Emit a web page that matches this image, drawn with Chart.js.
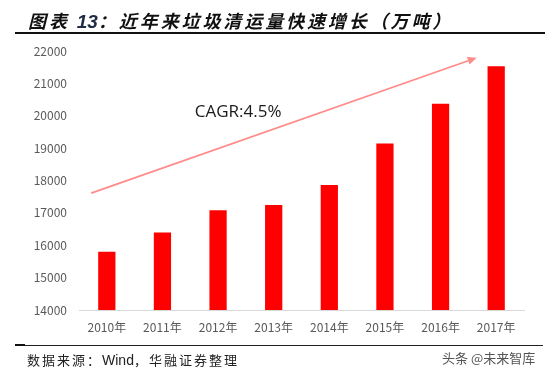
<!DOCTYPE html>
<html>
<head>
<meta charset="utf-8">
<script src="https://cdn.jsdelivr.net/npm/chart.js@4/dist/chart.umd.min.js"></script>
<style>
  html, body { margin: 0; padding: 0; background: #fff; }
  body { width: 554px; height: 378px; position: relative; overflow: hidden; font-family: "Noto Sans CJK SC", sans-serif; }
  #wrap { position: absolute; left: 0; top: 0; width: 554px; height: 378px; }
  .title { position: absolute; left: 28px; top: 9px; line-height: 22px; font-size: 18px; font-weight: bold; font-style: italic; letter-spacing: 2.9px; color: #111; white-space: nowrap; }
  .title .num { font-family: "Liberation Sans", Arial, sans-serif; font-size: 19px; letter-spacing: 0; color: #1f2a44; }
  .rule-top { position: absolute; left: 15px; width: 530px; top: 32px; height: 2px; background: #111; }
  .rule-bottom { position: absolute; left: 15px; width: 528px; top: 345px; height: 1px; background: #222; }
  .rule-bottom::before { content: ""; position: absolute; left: 0; top: -1px; width: 10px; height: 2px; background: #111; }
  .source { position: absolute; left: 27px; top: 351px; line-height: 18px; font-size: 13px; letter-spacing: 2px; color: #222; white-space: nowrap; }
  .source .en { font-family: "Liberation Sans", Arial, sans-serif; letter-spacing: 0; font-size: 14px; }
  .mark { position: absolute; left: 442px; top: 349px; line-height: 18px; font-size: 13px; color: #555; white-space: nowrap; }
</style>
</head>
<body>
<div id="wrap"><canvas id="chart" width="554" height="378"></canvas></div>
<div class="title">图表 <span class="num">13</span>：近年来垃圾清运量快速增长（万吨）</div>
<div class="rule-top"></div>
<div class="rule-bottom"></div>
<div class="source">数据来源：<span class="en">Wind</span>，华融证券整理</div>
<div class="mark">头条 @未来智库</div>
<script>
// values (万吨)
const years = ['2010年', '2011年', '2012年', '2013年', '2014年', '2015年', '2016年', '2017年'];
const tonnage = [15800, 16390, 17080, 17240, 17860, 19140, 20370, 21530];

// trend arrow and its label, in data units [category index, value]
const trendFrom = [-0.28, 17610];
const trendTo = [6.65, 21790];
const cagrText = 'CAGR:4.5%';
const cagrAt = [1.58, 20100];

const AXIS_TEXT = '#595959';

// ── Trend arrow + CAGR label ──
const trendArrow = {
  id: 'trendArrow',
  afterDatasetsDraw(chart) {
    const { ctx, scales: { x, y } } = chart;
    const x1 = x.getPixelForValue(trendFrom[0]), y1 = y.getPixelForValue(trendFrom[1]);
    const x2 = x.getPixelForValue(trendTo[0]), y2 = y.getPixelForValue(trendTo[1]);
    const ang = Math.atan2(y2 - y1, x2 - x1);
    const head = 9, half = 4;
    ctx.save();
    ctx.strokeStyle = '#ff8a8a';
    ctx.fillStyle = '#ff8a8a';
    ctx.lineWidth = 1.6;
    ctx.beginPath();
    ctx.moveTo(x1, y1);
    ctx.lineTo(x2 - head * Math.cos(ang), y2 - head * Math.sin(ang));
    ctx.stroke();
    ctx.beginPath();
    ctx.moveTo(x2, y2);
    ctx.lineTo(x2 - head * Math.cos(ang) + half * Math.sin(ang), y2 - head * Math.sin(ang) - half * Math.cos(ang));
    ctx.lineTo(x2 - head * Math.cos(ang) - half * Math.sin(ang), y2 - head * Math.sin(ang) + half * Math.cos(ang));
    ctx.closePath();
    ctx.fill();

    ctx.fillStyle = '#1a1a1a';
    ctx.font = '17px "Open Sans", sans-serif';
    ctx.textAlign = 'left';
    ctx.textBaseline = 'middle';
    ctx.fillText(cagrText, x.getPixelForValue(cagrAt[0]), y.getPixelForValue(cagrAt[1]));
    ctx.restore();
  }
};

new Chart(document.getElementById('chart'), {
  type: 'bar',
  data: {
    labels: years,
    datasets: [{
      data: tonnage,
      backgroundColor: '#ff0000',
      borderWidth: 0,
      barPercentage: 0.31,
      categoryPercentage: 1,
    }],
  },
  options: {
    responsive: false,
    animation: false,
    layout: { padding: { top: 51, right: 30, left: 0, bottom: 0 } },
    plugins: { legend: { display: false }, tooltip: { enabled: false } },
    scales: {
      x: {
        grid: { display: false, drawTicks: false },
        border: { display: true, color: '#d9d9d9', width: 1 },
        ticks: { color: AXIS_TEXT, padding: 10, font: { family: '"Noto Sans CJK SC", sans-serif', size: 12 } },
        afterFit(scale) { scale.height = 68; },
      },
      y: {
        min: 14000,
        max: 22000,
        grid: { display: false, drawTicks: false },
        border: { display: false },
        ticks: {
          stepSize: 1000,
          color: AXIS_TEXT,
          padding: 12,
          font: { family: '"Noto Sans CJK SC", sans-serif', size: 12 },
          callback: v => String(v),
        },
        afterFit(scale) { scale.width = 79; },
      },
    },
  },
  plugins: [trendArrow],
});
</script>
</body>
</html>
